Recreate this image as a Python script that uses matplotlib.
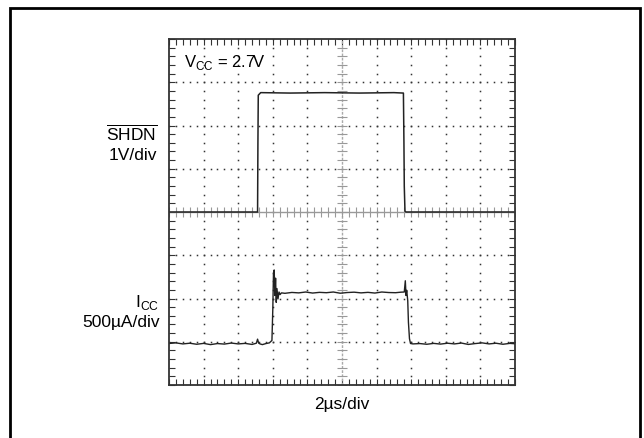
import matplotlib
matplotlib.use('Agg')
import matplotlib.pyplot as plt
from matplotlib.patches import Rectangle
import numpy as np

plt.rcParams['font.family'] = ['Liberation Sans', 'DejaVu Sans']
plt.rcParams['mathtext.fontset'] = 'custom'
plt.rcParams['mathtext.rm'] = 'Liberation Sans'

# scope settings
t_per_div = 2.0      # us/div
shdn_per_div = 1.0   # V/div
icc_per_div = 500.0  # uA/div
shdn_offset = 4.0    # divisions from bottom
icc_offset = 0.95

# SHDN trace (us, V)
shdn_t = [0.0, 5.12, 5.14, 5.16, 5.3, 7.0, 9.0, 11.0, 13.0, 13.55, 13.58, 13.6, 13.64, 13.7, 20.0]
shdn_v = [0.0, 0.0, 1.6, 2.7, 2.76, 2.75, 2.76, 2.75, 2.76, 2.75, 1.6, 0.6, 0.02, 0.0, 0.0]

# ICC trace (us, uA)
icc_t = [0.0, 0.4, 0.8, 1.2, 1.6, 2.0, 2.4, 2.8, 3.2, 3.6, 4.0, 4.4, 4.8, 5.05, 5.12, 5.18, 5.26,
         5.4, 5.6, 5.8, 5.95, 6.0, 6.04, 6.08, 6.12, 6.16, 6.2, 6.24, 6.3, 6.36, 6.42, 6.5, 6.7,
         7.1, 7.5, 7.9, 8.3, 8.7, 9.1, 9.5, 9.9, 10.3, 10.7, 11.1, 11.5, 11.9, 12.3, 12.7, 13.1,
         13.4, 13.6, 13.66, 13.7, 13.74, 13.8, 13.84, 13.9, 13.96, 14.1, 14.5, 14.9, 15.3, 15.7,
         16.1, 16.5, 16.9, 17.3, 17.7, 18.1, 18.5, 18.9, 19.3, 19.7, 20.0]
icc_ua = [5, 12, 0, 8, -4, 6, -8, 4, -2, 10, 0, 6, -6, 8, 55, 10, 0,
          -8, 4, 12, 40, 400, 820, 855, 560, 760, 480, 640, 520, 600, 570, 590, 585,
          595, 590, 600, 588, 596, 592, 600, 586, 594, 598, 590, 596, 588, 600, 594, 592,
          598, 600, 730, 560, 620, 500, 250, 60, 5, 0, 4, -4, 6, -2, 8, 0, 10, -6, 4, 12, 0, 8, -4, 6, 2]

fig = plt.figure(figsize=(6.44, 4.38), dpi=100)
W, H = 644, 438
ax = fig.add_axes([169 / W, 1 - 385 / H, 346 / W, 346 / H])
ax.set_xlim(0, 20)
ax.set_ylim(0, 8)

# grid dots
minor_x = np.arange(0, 20.01, 0.4)
minor_y = np.arange(0, 8.001, 0.2)
for gy in [1, 2, 3, 5, 6, 7]:
    ax.plot(minor_x, np.full_like(minor_x, gy), ls='none', marker='s', ms=1.1,
            color='#333333', mew=0)
for gx in [2, 4, 6, 8, 12, 14, 16, 18]:
    ax.plot(np.full_like(minor_y, gx), minor_y, ls='none', marker='s', ms=1.1,
            color='#333333', mew=0)

# center cross with ticks
ax.axhline(4, color='#999999', lw=1.0)
ax.axvline(10, color='#aaaaaa', lw=1.0, ls=(0, (2, 1)))
ax.plot(minor_x, np.full_like(minor_x, 4), ls='none', marker='|', ms=7, color='#999999', mew=0.8)
ax.plot(np.full_like(minor_y, 10), minor_y, ls='none', marker='_', ms=7, color='#999999', mew=0.8)

# traces
ax.plot(np.array(shdn_t), shdn_offset + np.array(shdn_v) / shdn_per_div, color='#222222', lw=1.1)
ax.plot(np.array(icc_t), icc_offset + np.array(icc_ua) / icc_per_div, color='#222222', lw=1.0)

# frame and ticks
ax.set_xticks(np.arange(0, 20.01, 2))
ax.set_yticks(np.arange(0, 8.01, 1))
ax.set_xticks(minor_x, minor=True)
ax.set_yticks(minor_y, minor=True)
ax.tick_params(which='both', direction='in', top=True, right=True, length=4, width=0.8,
               color='#333333', labelbottom=False, labelleft=False)
for s in ax.spines.values():
    s.set_color('#333333')
    s.set_linewidth(1.3)

fs = 12.5
ax.text(15 / 346, 1 - 24 / 346, r'V$_{\rm CC}$ = 2.7V', transform=ax.transAxes, fontsize=12,
        va='center')
fig.text(157 / W, 1 - 133 / H, r'$\overline{\rm SHDN}$', ha='right', va='center', fontsize=fs)
fig.text(157 / W, 1 - 156 / H, '1V/div', ha='right', va='center', fontsize=fs)
fig.text(159 / W, 1 - 303 / H, r'I$_{\rm CC}$', ha='right', va='center', fontsize=fs)
fig.text(160 / W, 1 - 323 / H, '500µA/div', ha='right', va='center', fontsize=fs)
fig.text(342 / W, 1 - 405 / H, '2µs/div', ha='center', va='center', fontsize=fs)

# outer box
fig.patches.append(Rectangle((10 / W, -0.05), 630 / W, 1.05 - 8 / H, transform=fig.transFigure,
                             fill=False, ec='black', lw=2))

fig.savefig('out.png', dpi=100)
